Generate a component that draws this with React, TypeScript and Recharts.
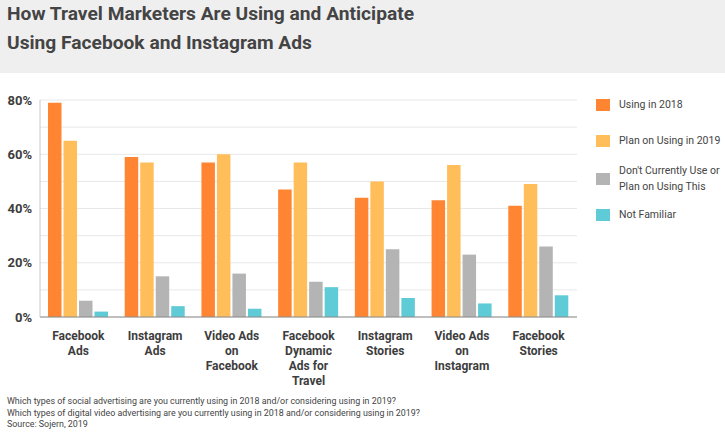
import { BarChart, Bar, XAxis, YAxis, CartesianGrid } from "recharts";

const categories = [
  "Facebook Ads",
  "Instagram Ads",
  "Video Ads on Facebook",
  "Facebook Dynamic Ads for Travel",
  "Instagram Stories",
  "Video Ads on Instagram",
  "Facebook Stories",
];

const using2018 = [79, 59, 57, 47, 44, 43, 41];
const plan2019 = [65, 57, 60, 57, 50, 56, 49];
const notUsing = [6, 15, 16, 13, 25, 23, 26];
const notFamiliar = [2, 4, 3, 11, 7, 5, 8];

const seriesNames = [
  "Using in 2018",
  "Plan on Using in 2019",
  "Don't Currently Use or Plan on Using This",
  "Not Familiar",
];
const seriesKeys = ["using", "plan", "notUsing", "notFamiliar"];
const COLORS = ["#ff8533", "#ffbe59", "#b4b4b4", "#5ecbd6"];

const yTicks = [0, 10, 20, 30, 40, 50, 60, 70, 80];

const titleLines = [
  "How Travel Marketers Are Using and Anticipate",
  "Using Facebook and Instagram Ads",
];
const footerLines = [
  "Which types of social advertising are you currently using in 2018 and/or considering using in 2019?",
  "Which types of digital video advertising are you currently using in 2018 and/or considering using in 2019?",
  "Source: Sojern, 2019",
];

const data = categories.map((name, i) => ({
  name,
  using: using2018[i],
  plan: plan2019[i],
  notUsing: notUsing[i],
  notFamiliar: notFamiliar[i],
}));

// greedy word wrap for the category labels
function wrap(text: string, max: number) {
  const words = text.split(" ");
  const lines: string[] = [];
  let cur = "";
  for (const w of words) {
    const next = cur ? cur + " " + w : w;
    if (next.length > max && cur) {
      lines.push(cur);
      cur = w;
    } else {
      cur = next;
    }
  }
  if (cur) lines.push(cur);
  return lines;
}

function CategoryTick(props: any) {
  const { x, y, payload } = props;
  const lines = wrap(payload.value, 9);
  return (
    <text
      x={x}
      y={y}
      textAnchor="middle"
      fill="#3d3d3d"
      fontSize={12}
      fontWeight={700}
      fontFamily="Roboto, sans-serif"
    >
      {lines.map((l, i) => (
        <tspan key={i} x={x} dy={15}>
          {l}
        </tspan>
      ))}
    </text>
  );
}

export default function App() {
  return (
    <div
      style={{
        position: "absolute",
        left: 0,
        top: 0,
        width: 725,
        height: 436,
        background: "#fff",
        fontFamily: "Roboto, sans-serif",
        overflow: "hidden",
      }}
    >
      <div
        style={{
          position: "absolute",
          left: 0,
          top: 0,
          width: 725,
          height: 73,
          background: "#efefef",
        }}
      />
      {titleLines.map((t, i) => (
        <div
          key={i}
          style={{
            position: "absolute",
            left: 7,
            top: 1 + i * 29,
            fontSize: 19.2,
            lineHeight: "26px",
            fontWeight: 700,
            color: "#444",
            whiteSpace: "nowrap",
          }}
        >
          {t}
        </div>
      ))}

      <div style={{ position: "absolute", left: 0, top: 0 }}>
        <BarChart
          width={725}
          height={436}
          data={data}
          margin={{ top: 100, right: 148, bottom: 59, left: 0 }}
          barSize={13.5}
          barGap={2}
        >
          <CartesianGrid vertical={false} stroke="#e8e8e8" />
          <XAxis
            dataKey="name"
            interval={0}
            height={60}
            tickLine={false}
            axisLine={{ stroke: "#8a8a8a" }}
            tick={<CategoryTick />}
          />
          <YAxis
            width={40}
            domain={[0, 80]}
            ticks={yTicks}
            interval={0}
            tickLine={false}
            axisLine={{ stroke: "#c8c8c8" }}
            tickFormatter={(v: number) => (v % 20 === 0 ? `${v}%` : "")}
            tick={{ fill: "#3d3d3d", fontSize: 13, fontWeight: 700 }}
          />
          {seriesKeys.map((k, i) => (
            <Bar
              key={k}
              dataKey={k}
              name={seriesNames[i]}
              fill={COLORS[i]}
              isAnimationActive={false}
            />
          ))}
        </BarChart>
      </div>

      <div style={{ position: "absolute", left: 596, top: 97, width: 125 }}>
        {seriesNames.map((n, i) => {
          const tops = [0, 36, 66, 110];
          return (
            <div
              key={n}
              style={{
                position: "absolute",
                top: tops[i],
                left: 0,
                display: "flex",
                alignItems: "center",
                width: 125,
              }}
            >
              <div
                style={{
                  width: 14,
                  height: 12,
                  background: COLORS[i],
                  flexShrink: 0,
                }}
              />
              <div
                style={{
                  marginLeft: 9,
                  fontSize: 10.5,
                  lineHeight: "16px",
                  color: "#444",
                }}
              >
                {n}
              </div>
            </div>
          );
        })}
      </div>

      {footerLines.map((t, i) => (
        <div
          key={i}
          style={{
            position: "absolute",
            left: 7,
            top: 395 + i * 11.5,
            fontSize: 8.9,
            lineHeight: "12px",
            color: "#444",
            whiteSpace: "nowrap",
          }}
        >
          {t}
        </div>
      ))}
    </div>
  );
}
